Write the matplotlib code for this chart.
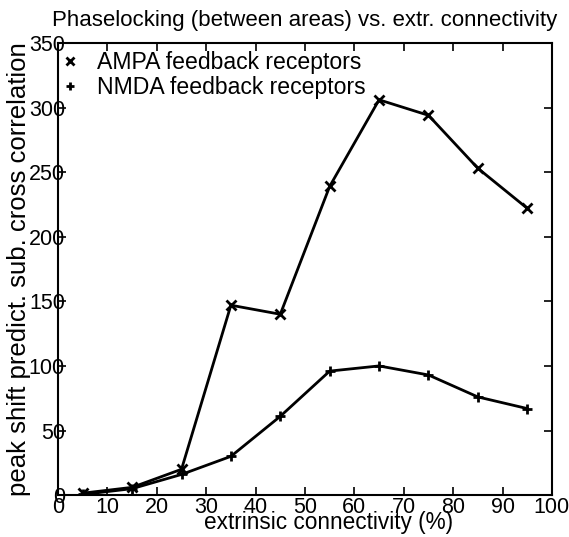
import matplotlib
matplotlib.use("Agg")
import matplotlib.pyplot as plt

plt.rcParams['font.family'] = ['Liberation Sans', 'DejaVu Sans']

# extrinsic connectivity (%)
conectividade = [5, 15, 25, 35, 45, 55, 65, 75, 85, 95]
# peak shift for each feedback receptor type
ampa = [1.5, 6, 20, 147, 140, 239, 306, 294, 253, 222]
nmda = [0.5, 5, 16, 30, 61, 96, 100, 93, 76, 67]

xticks = list(range(0, 101, 10))
yticks = list(range(0, 351, 50))

fig = plt.figure(figsize=(5.69, 5.37), dpi=100)
ax = fig.add_axes([0.102, 0.078, 0.868, 0.842])

ax.plot(conectividade, ampa, color='black', lw=2.0, marker='x', ms=7.5, mew=2.0,
        label='AMPA feedback receptors')
ax.plot(conectividade, nmda, color='black', lw=2.0, marker='+', ms=7.5, mew=2.0,
        label='NMDA feedback receptors')

ax.set_xlim(0, 100)
ax.set_ylim(0, 350)
ax.set_xticks(xticks)
ax.set_yticks(yticks)
ax.tick_params(direction='in', top=True, right=True, length=6, width=1.2,
               labelsize=15.5)
ax.tick_params(axis='x', pad=1)
ax.tick_params(axis='y', pad=-5)
for s in ax.spines.values():
    s.set_linewidth(1.5)

ax.set_title('Phaselocking (between areas) vs. extr. connectivity', fontsize=16, pad=12)
ax.set_xlabel('extrinsic connectivity (%)', fontsize=16.3)
ax.set_ylabel('peak shift predict. sub. cross correlation', fontsize=18.5)
ax.xaxis.set_label_coords(0.547, -0.035)
ax.yaxis.set_label_coords(-0.055, 0.5)

leg = ax.legend(loc='upper left', bbox_to_anchor=(0, 1.002), frameon=False,
                fontsize=16.6, handlelength=0.25, handletextpad=1.04,
                labelspacing=0.08, borderaxespad=0)
for h in leg.legend_handles:
    h.set_linestyle('None')
    h.set_markersize(6)

fig.savefig('out.png', dpi=100)
